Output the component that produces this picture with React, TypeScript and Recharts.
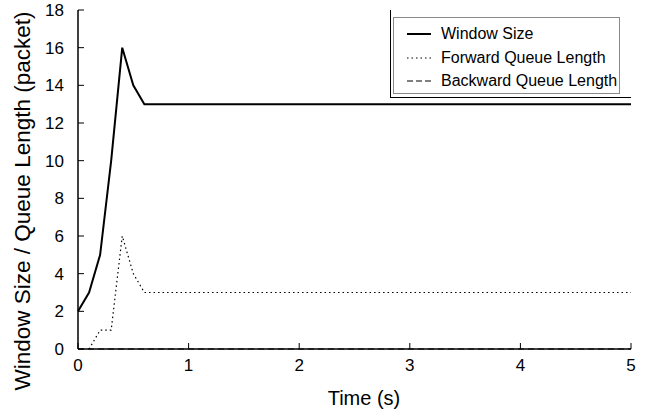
import React from 'react';
import { LineChart, Line, XAxis, YAxis, Label } from 'recharts';

// time (s) of each sample and the values
const times = [0, 0.1, 0.2, 0.3, 0.4, 0.5, 0.6, 5];
const windowSize = [2, 3, 5, 10, 16, 14, 13, 13];
const forwardQueue = [null, 0, 1, 1, 6, 4, 3, 3];
const backwardQueue = [0, 0, 0, 0, 0, 0, 0, 0];

const xTicks = [0, 1, 2, 3, 4, 5];
const yTicks = [0, 2, 4, 6, 8, 10, 12, 14, 16, 18];

const data = times.map((t, i) => ({
    t,
    windowSize: windowSize[i],
    forward: forwardQueue[i],
    backward: backwardQueue[i],
}));

const font = '"Liberation Sans", Arial, Helvetica, sans-serif';

const series = [
    { key: 'windowSize', name: 'Window Size', width: 2, dash: undefined as string | undefined, sample: undefined as string | undefined },
    { key: 'forward', name: 'Forward Queue Length', width: 1.2, dash: '1.5 3', sample: '1.5 3' },
    { key: 'backward', name: 'Backward Queue Length', width: 1.2, dash: '6 4', sample: '6 3' },
];

// boxed key in the top-right corner of the plot
const KeyBox = () => (
    <div style={{
        position: 'absolute', left: 390, top: 10, width: 241, height: 88, boxSizing: 'border-box',
        borderLeft: '1.5px solid #000', borderBottom: '1.5px solid #000', background: '#fff',
    }}>
        <div style={{
            position: 'absolute', left: 2, top: 7, width: 227, height: 77,
            border: '1px solid #8a8a8a', boxSizing: 'border-box',
        }}>
            {series.map((s, i) => (
                <div key={s.key} style={{
                    position: 'absolute', left: 13, top: [16, 40, 63][i] - 11, height: 22,
                    display: 'flex', alignItems: 'center', whiteSpace: 'nowrap',
                }}>
                    <svg width={24} height={4} style={{ marginRight: 10 }}>
                        <line x1={0} y1={2} x2={24} y2={2} stroke="#000"
                              strokeWidth={s.key === 'windowSize' ? 2 : 1.2}
                              strokeDasharray={s.sample}/>
                    </svg>
                    <span style={{ fontFamily: font, fontSize: 16, color: '#000' }}>{s.name}</span>
                </div>
            ))}
        </div>
    </div>
);

const App: React.FC = () => (
    <div style={{ position: 'absolute', left: 0, top: 0, width: 647, height: 416, background: '#fff' }}>
        <LineChart width={647} height={416} data={data}
                   margin={{ top: 10, right: 16, left: 0, bottom: 0 }}>
            <XAxis dataKey="t" type="number" domain={[0, 5]} ticks={xTicks}
                   height={67} tickSize={-6} tickMargin={16}
                   axisLine={{ stroke: '#000', strokeWidth: 1.5 }}
                   tickLine={{ stroke: '#000', strokeWidth: 1 }}
                   tick={{ fill: '#000', fontFamily: font, fontSize: 17 }}
                   tickFormatter={(v) => String(v)}>
                <Label content={() => (
                    <text x={364} y={398} textAnchor="middle" dominantBaseline="central"
                          fontFamily={font} fontSize={20} fill="#000">Time (s)</text>
                )}/>
            </XAxis>
            <XAxis xAxisId="top" orientation="top" height={0} type="number" domain={[0, 5]}
                   tick={false} tickLine={false}
                   axisLine={{ stroke: '#000', strokeWidth: 1.5 }}/>
            <YAxis type="number" domain={[0, 18]} ticks={yTicks} width={78}
                   tickSize={-6} tickMargin={20} interval={0}
                   axisLine={{ stroke: '#000', strokeWidth: 1.5 }}
                   tickLine={{ stroke: '#000', strokeWidth: 1 }}
                   tick={{ fill: '#000', fontFamily: font, fontSize: 17 }}>
                <Label content={() => (
                    <text transform="translate(22,201) rotate(-90)" textAnchor="middle"
                          dominantBaseline="central" fontFamily={font} fontSize={22.5}
                          fill="#000">Window Size / Queue Length (packet)</text>
                )}/>
            </YAxis>
            <YAxis yAxisId="right" orientation="right" width={0} domain={[0, 18]}
                   tick={false} tickLine={false}
                   axisLine={{ stroke: '#000', strokeWidth: 1.5 }}/>
            {series.map((s) => (
                <Line key={s.key} type="linear" dataKey={s.key} name={s.name}
                      stroke="#000" strokeWidth={s.width} strokeDasharray={s.dash}
                      dot={false} activeDot={false} isAnimationActive={false}/>
            ))}
        </LineChart>
        <KeyBox/>
    </div>
);

export default App;
